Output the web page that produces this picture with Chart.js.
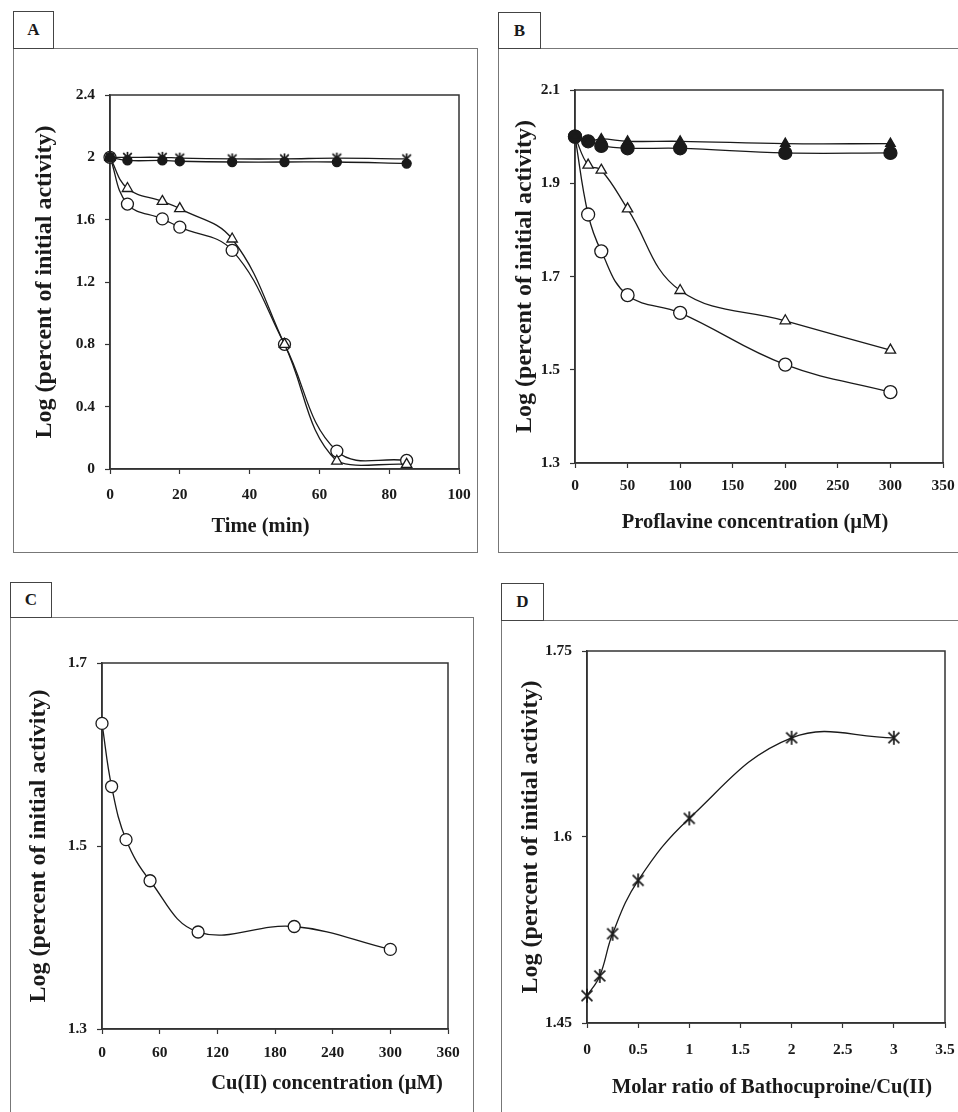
<!DOCTYPE html>
<html>
<head>
<meta charset="utf-8">
<script src="https://cdn.jsdelivr.net/npm/chart.js@4.4.1/dist/chart.umd.min.js"></script>
<style>
  body { margin: 0; background: #fff; width: 958px; height: 1112px; overflow: hidden; position: relative; font-family: "Liberation Serif", "Times New Roman", serif; }
  .frame { position: absolute; border: 1.5px solid #777; box-sizing: border-box; }
  .tag { position: absolute; border: 1.5px solid #444; box-sizing: border-box; background: #fff;
         font-weight: bold; font-size: 17px; color: #1a1a1a; display: flex; align-items: center; justify-content: center; }
  canvas { position: absolute; }
</style>
</head>
<body>
<div class="frame" style="left:13px;top:48px;width:465px;height:505px"></div>
<div class="frame" style="left:498px;top:48px;width:475px;height:505px"></div>
<div class="frame" style="left:10px;top:617px;width:464px;height:520px"></div>
<div class="frame" style="left:501px;top:620px;width:475px;height:520px"></div>
<div class="tag" style="left:13px;top:11px;width:41px;height:38px">A</div>
<div class="tag" style="left:498px;top:12px;width:43px;height:37px">B</div>
<div class="tag" style="left:10px;top:582px;width:42px;height:36px">C</div>
<div class="tag" style="left:501px;top:583px;width:43px;height:38px">D</div>
<canvas id="cA" width="465" height="505" style="left:13px;top:48px"></canvas>
<canvas id="cB" width="460" height="505" style="left:498px;top:48px"></canvas>
<canvas id="cC" width="464" height="495" style="left:10px;top:617px"></canvas>
<canvas id="cD" width="457" height="492" style="left:501px;top:620px"></canvas>
<script>
// panel A: time course
var timeA = [0, 5, 15, 20, 35, 50, 65, 85];
var starA = [2.0, 2.0, 2.0, 1.995, 1.99, 1.99, 1.995, 1.99];
var dotA = [2.0, 1.98, 1.98, 1.975, 1.97, 1.97, 1.97, 1.96];
var triA = [2.0, 1.80, 1.717, 1.671, 1.476, 0.80, 0.05, 0.03];
var ringA = [2.0, 1.70, 1.605, 1.552, 1.403, 0.80, 0.115, 0.055];

// panel B: proflavine
var concB = [0, 12.5, 25, 50, 100, 200, 300];
var triFillB = [2.0, 1.99, 1.995, 1.99, 1.99, 1.985, 1.985];
var dotB = [2.0, 1.99, 1.98, 1.975, 1.975, 1.965, 1.965];
var triB = [2.0, 1.939, 1.928, 1.845, 1.670, 1.605, 1.542];
var ringB = [2.0, 1.833, 1.754, 1.660, 1.622, 1.511, 1.452];

// panel C: Cu(II)
var concC = [0, 10, 25, 50, 100, 200, 300];
var ringC = [1.634, 1.565, 1.507, 1.462, 1.406, 1.412, 1.387];

// panel D: bathocuproine ratio
var ratioD = [0, 0.125, 0.25, 0.5, 1, 2, 3];
var starD = [1.472, 1.488, 1.522, 1.565, 1.615, 1.680, 1.680];

var yTitle = "Log (percent of initial activity)";
var FONT = '"Liberation Serif", "Times New Roman", serif';
var INK = "#1a1a1a";

function asterisk(size) {
    var c = document.createElement("canvas");
    c.width = size;
    c.height = size;
    var g = c.getContext("2d");
    var m = size / 2, r = size / 2 - 1, d = r * 0.78;
    g.strokeStyle = INK;
    g.lineWidth = 1.7;
    g.beginPath();
    g.moveTo(m, m - r); g.lineTo(m, m + r);
    g.moveTo(m - d, m - d); g.lineTo(m + d, m + d);
    g.moveTo(m + d, m - d); g.lineTo(m - d, m + d);
    g.stroke();
    return c;
}

function pts(xs, ys) {
    return xs.map(function (x, i) { return { x: x, y: ys[i] }; });
}

function fmt(v) {
    return String(Math.round(v * 100) / 100);
}

function series(xs, ys, style, filled, radius) {
    return {
        data: pts(xs, ys),
        borderColor: INK,
        borderWidth: 1.3,
        tension: 0.4,
        pointStyle: style,
        pointRadius: radius,
        pointBorderWidth: 1.3,
        pointBorderColor: INK,
        pointBackgroundColor: filled ? INK : "#fff",
        clip: { left: 12, right: 12, top: 12, bottom: 2 }
    };
}

var framePlugin = {
    id: "frameBits",
    beforeDatasetsDraw: function (chart) {
        var a = chart.chartArea, ctx = chart.ctx;
        ctx.save();
        ctx.strokeStyle = "#333";
        ctx.lineWidth = 1.5;
        ctx.strokeRect(a.left, a.top, a.right - a.left, a.bottom - a.top);
        ctx.restore();
    },
    afterDraw: function (chart, args, opts) {
        var a = chart.chartArea, ctx = chart.ctx;
        ctx.save();
        ctx.font = "bold 20.5px " + FONT;
        ctx.fillStyle = INK;
        ctx.textAlign = "center";
        ctx.textBaseline = "middle";
        ctx.fillText(opts.text, (a.left + a.right) / 2 + opts.dx, opts.y);
        ctx.restore();
    }
};

function makeChart(id, datasets, xr, yr, g) {
    var tickFont = { family: FONT, size: 15.5, weight: "bold" };
    new Chart(document.getElementById(id), {
        type: "line",
        data: { datasets: datasets },
        plugins: [framePlugin],
        options: {
            responsive: false,
            animation: false,
            devicePixelRatio: 1,
            layout: { padding: { top: g.top, right: g.right, left: 0, bottom: 0 } },
            plugins: {
                legend: { display: false },
                tooltip: { enabled: false },
                frameBits: { text: xr.title, dx: g.titleDx, y: g.titleY }
            },
            scales: {
                x: {
                    type: "linear",
                    min: xr.min, max: xr.max,
                    ticks: { stepSize: xr.step, color: INK, font: tickFont, padding: g.xPad, maxRotation: 0, autoSkip: false, callback: fmt },
                    grid: { drawOnChartArea: false, tickLength: 5, tickColor: "#333", tickWidth: 1.2 },
                    border: { color: "#333", width: 1.5 },
                    afterFit: function (s) { s.height = g.xh; s.paddingLeft = 0; s.paddingRight = 0; }
                },
                y: {
                    min: yr.min, max: yr.max,
                    ticks: { stepSize: yr.step, color: INK, font: tickFont, padding: 10, autoSkip: false, callback: fmt },
                    grid: { drawOnChartArea: false, tickLength: 5, tickColor: "#333", tickWidth: 1.2 },
                    border: { color: "#333", width: 1.5 },
                    title: {
                        display: true, text: yTitle, color: INK,
                        font: { family: FONT, size: 24, weight: "bold" },
                        padding: { top: g.yTitlePad, bottom: 0 }
                    },
                    afterFit: function (s) { s.width = g.yw; s.paddingTop = 0; s.paddingBottom = 0; }
                }
            }
        }
    });
}

var starSmall = asterisk(13);
var starBig = asterisk(16);

makeChart("cA", [
    series(timeA, starA, starSmall, true, 5),
    series(timeA, dotA, "circle", true, 4.5),
    series(timeA, triA, "triangle", false, 6),
    series(timeA, ringA, "circle", false, 6)
], { min: 0, max: 100, step: 20, title: "Time (min)" },
   { min: 0, max: 2.4, step: 0.4 },
   { top: 47, right: 19, yw: 97, xh: 84, xPad: 12, yTitlePad: 17.5, titleDx: -24, titleY: 479 });

makeChart("cB", [
    series(concB, triFillB, "triangle", true, 5.5),
    series(concB, dotB, "circle", true, 6.5),
    series(concB, triB, "triangle", false, 6),
    series(concB, ringB, "circle", false, 6.5)
], { min: 0, max: 350, step: 50, title: "Proflavine concentration (\u00b5M)" },
   { min: 1.3, max: 2.1, step: 0.2 },
   { top: 42, right: 15, yw: 77, xh: 90, xPad: 9, yTitlePad: 12.5, titleDx: -4, titleY: 475 });

makeChart("cC", [
    series(concC, ringC, "circle", false, 6)
], { min: 0, max: 360, step: 60, title: "Cu(II) concentration (\u00b5M)" },
   { min: 1.3, max: 1.7, step: 0.2 },
   { top: 46, right: 26, yw: 92, xh: 83, xPad: 10, yTitlePad: 14.5, titleDx: 52, titleY: 467 });

makeChart("cD", [
    series(ratioD, starD, starBig, false, 7)
], { min: 0, max: 3.5, step: 0.5, title: "Molar ratio of Bathocuproine/Cu(II)" },
   { min: 1.45, max: 1.75, step: 0.15 },
   { top: 31, right: 13, yw: 86, xh: 89, xPad: 13, yTitlePad: 15.5, titleDx: 6, titleY: 468 });
</script>
</body>
</html>
